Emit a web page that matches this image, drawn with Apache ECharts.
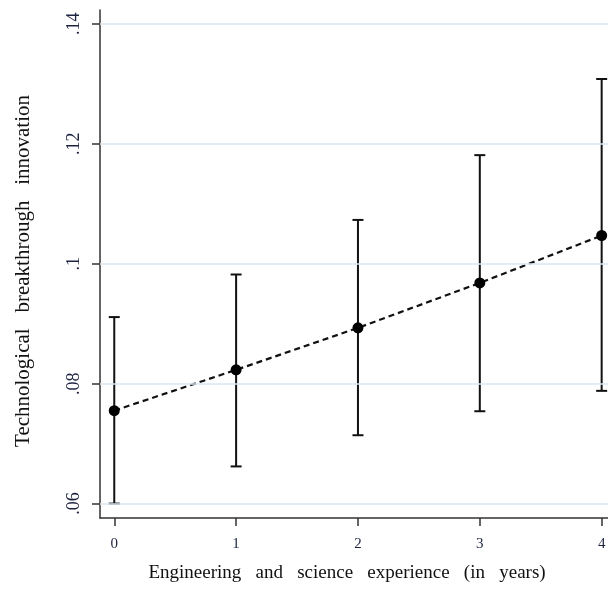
<!DOCTYPE html>
<html>
<head>
<meta charset="utf-8">
<script src="https://cdn.jsdelivr.net/npm/echarts@6/dist/echarts.min.js"></script>
<style>
  html, body { margin: 0; padding: 0; background: #fff; }
  #chart { width: 608px; height: 589px; }
</style>
</head>
<body>
<div id="chart"></div>
<script>
// Years of engineering and science experience
const years = [0, 1, 2, 3, 4];
// Predicted breakthrough innovation and 95% confidence bounds
const estimate = [0.0755, 0.0823, 0.0893, 0.0968, 0.1047];
const lower = [0.0600, 0.0662, 0.0714, 0.0754, 0.0788];
const upper = [0.0911, 0.0982, 0.1073, 0.1181, 0.1308];
// Axis tick values
const yTicks = [0.06, 0.08, 0.10, 0.12, 0.14];
const yTickLabels = ['.06', '.08', '.1', '.12', '.14'];
const xTicks = [0, 1, 2, 3, 4];

const font = '"Liberation Serif", "DejaVu Serif", serif';
// titles use a wider word gap
const wide = s => s.split(' ').join('\u2002 ');

const chart = echarts.init(document.getElementById('chart'), null, { renderer: 'canvas' });

const linePoints = years.map((x, i) => [x, estimate[i]]);
const barData = years.map((x, i) => [x, lower[i], upper[i]]);

chart.setOption({
  animation: false,
  backgroundColor: '#ffffff',
  grid: { left: 100, right: 0, top: 10, bottom: 71, containLabel: false, outerBoundsMode: 'none' },
  xAxis: {
    type: 'value',
    min: -0.117,
    max: 4.052,
    name: wide('Engineering and science experience (in years)'),
    nameLocation: 'middle',
    nameGap: 46,
    nameTextStyle: { fontFamily: font, fontSize: 19, color: '#111', padding: [0, 14, 0, 0] },
    axisLine: { show: true, onZero: false, lineStyle: { color: '#333', width: 1.5 } },
    axisTick: { show: true, length: 8, customValues: xTicks, lineStyle: { color: '#333', width: 1.5 } },
    axisLabel: {
      customValues: xTicks,
      fontFamily: font, fontSize: 15, color: '#1c2440', margin: 19,
      formatter: v => String(v)
    },
    splitLine: { show: false }
  },
  yAxis: {
    type: 'value',
    min: 0.0576,
    max: 0.1423,
    name: wide('Technological breakthrough innovation'),
    nameLocation: 'middle',
    nameGap: 66,
    nameRotate: 90,
    nameTextStyle: { fontFamily: font, fontSize: 21, color: '#111', padding: [0, 14, 0, 0] },
    axisLine: { show: true, onZero: false, lineStyle: { color: '#333', width: 1.5 } },
    axisTick: { show: true, length: 8, customValues: yTicks, lineStyle: { color: '#333', width: 1.5 } },
    axisLabel: {
      customValues: yTicks,
      rotate: 90,
      fontFamily: font, fontSize: 18, color: '#1c2440', margin: 17,
      formatter: v => {
        const i = yTicks.findIndex(t => Math.abs(t - v) < 1e-6);
        return i >= 0 ? yTickLabels[i] : '';
      }
    },
    splitLine: { show: false }
  },
  series: [
    {
      // horizontal reference lines at each y tick
      type: 'line',
      data: [],
      silent: true,
      markLine: {
        silent: true,
        symbol: 'none',
        label: { show: false },
        lineStyle: { color: '#dde7ef', width: 1.5, type: 'solid' },
        data: yTicks.map(v => ({ yAxis: v }))
      }
    },
    {
      // confidence interval whiskers with end caps
      type: 'custom',
      data: barData,
      z: 3,
      renderItem: (params, api) => {
        const x = api.value(0);
        const lo = api.coord([x, api.value(1)]);
        const hi = api.coord([x, api.value(2)]);
        const half = 5.5;
        const style = { stroke: '#111', lineWidth: 2, fill: null };
        return {
          type: 'group',
          children: [
            { type: 'line', shape: { x1: lo[0], y1: lo[1], x2: hi[0], y2: hi[1] }, style },
            { type: 'line', shape: { x1: lo[0] - half, y1: lo[1], x2: lo[0] + half, y2: lo[1] }, style },
            { type: 'line', shape: { x1: hi[0] - half, y1: hi[1], x2: hi[0] + half, y2: hi[1] }, style }
          ]
        };
      }
    },
    {
      // point estimates joined by a dashed line
      type: 'line',
      data: linePoints,
      z: 4,
      symbol: 'circle',
      symbolSize: 11,
      showSymbol: true,
      itemStyle: { color: '#000' },
      lineStyle: { color: '#111', width: 2.2, type: [6, 4] }
    }
  ]
});
</script>
</body>
</html>
